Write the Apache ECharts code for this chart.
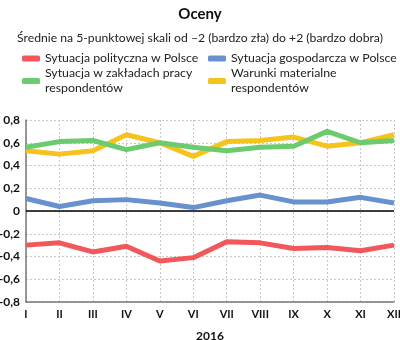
<!DOCTYPE html>
<html>
<head>
<meta charset="utf-8">
<script src="https://cdn.jsdelivr.net/npm/echarts@6/dist/echarts.min.js"></script>
<style>
  html, body { margin: 0; padding: 0; background: #fff; }
  #chart { width: 400px; height: 340px; }
</style>
</head>
<body>
<div id="chart"></div>
<script>
// Miesiące 2016 (oś X)
var months = ['I', 'II', 'III', 'IV', 'V', 'VI', 'VII', 'VIII', 'IX', 'X', 'XI', 'XII'];

// Średnie oceny na skali od -2 do +2
var polityczna = [-0.30, -0.28, -0.36, -0.31, -0.44, -0.41, -0.27, -0.28, -0.33, -0.32, -0.35, -0.30];
var gospodarcza = [0.11, 0.04, 0.09, 0.10, 0.07, 0.03, 0.09, 0.14, 0.08, 0.08, 0.12, 0.07];
var zaklady = [0.56, 0.61, 0.62, 0.54, 0.60, 0.56, 0.53, 0.56, 0.57, 0.70, 0.60, 0.62];
var warunki = [0.53, 0.50, 0.53, 0.67, 0.60, 0.48, 0.61, 0.62, 0.65, 0.57, 0.60, 0.67];

var names = [
  'Sytuacja polityczna w Polsce',
  'Sytuacja gospodarcza w Polsce',
  'Sytuacja w zakładach pracy respondentów',
  'Warunki materialne respondentów'
];
var colors = ['#f2585b', '#6891cd', '#6ccb6e', '#f6c21c'];

var FONT = 'Lato';

// Dwuwierszowe pozycje legendy: ikonka wyrównana do pierwszego wiersza
function legendBlock(name, left, top) {
  var twoLines = (name === names[2] || name === names[3]);
  return {
    data: [name],
    left: left,
    top: top,
    orient: 'vertical',
    icon: 'roundRect',
    itemWidth: 18,
    itemHeight: 6,
    itemGap: 4,
    padding: 0,
    selectedMode: false,
    formatter: function (n) {
      if (n === names[2]) return 'Sytuacja w zakładach pracy\nrespondentów';
      if (n === names[3]) return 'Warunki materialne\nrespondentów';
      return n;
    },
    textStyle: {
      fontFamily: FONT,
      fontSize: 12.3,
      color: '#222',
      lineHeight: 15,
      padding: twoLines ? [15, 0, 0, 0] : 0
    }
  };
}

function lineSeries(name, data, color, extra) {
  var s = {
    name: name,
    type: 'line',
    data: data,
    symbol: 'none',
    lineStyle: { width: 5, color: color },
    itemStyle: { color: color },
    z: 3
  };
  if (extra) Object.assign(s, extra);
  return s;
}

var chart = echarts.init(document.getElementById('chart'), null, { renderer: 'canvas' });

chart.setOption({
  backgroundColor: '#fff',
  animation: false,
  textStyle: { fontFamily: FONT },
  title: [
    {
      text: 'Oceny',
      left: 'center',
      top: 2,
      textStyle: { fontFamily: FONT, fontSize: 15, fontWeight: 'bold', color: '#111' }
    },
    {
      text: 'Średnie na 5-punktowej skali od –2 (bardzo zła) do +2 (bardzo dobra)',
      left: 'center',
      top: 27,
      textStyle: { fontFamily: FONT, fontSize: 12.2, fontWeight: 'normal', color: '#222' }
    }
  ],
  legend: [
    legendBlock(names[0], 22, 51),
    legendBlock(names[2], 22, 58.5),
    legendBlock(names[1], 208, 51),
    legendBlock(names[3], 208, 58.5)
  ],
  grid: { left: 26, right: 6, top: 120, bottom: 38, containLabel: false, outerBoundsMode: 'none' },
  xAxis: {
    type: 'category',
    data: months,
    boundaryGap: false,
    name: '2016',
    nameLocation: 'middle',
    nameGap: 28,
    nameTextStyle: { fontFamily: FONT, fontSize: 12, fontWeight: 'bold', color: '#111' },
    axisLine: { onZero: false, lineStyle: { color: '#777', width: 1.5 } },
    axisTick: { show: false },
    axisLabel: { fontFamily: FONT, fontSize: 11, fontWeight: 'bold', color: '#111', margin: 7 },
    splitLine: { show: true, lineStyle: { color: '#c8c8c8', type: [2, 2], width: 1 } }
  },
  yAxis: {
    type: 'value',
    min: -0.8,
    max: 0.8,
    interval: 0.2,
    axisLine: { show: true, lineStyle: { color: '#777', width: 1.5 } },
    axisTick: { show: false },
    axisLabel: {
      fontFamily: FONT, fontSize: 12, fontWeight: 'bold', color: '#111', margin: 6,
      formatter: function (v) {
        var r = Math.round(v * 10) / 10;
        if (r === 0) return '0';
        return r.toFixed(1).replace('.', ',');
      }
    },
    splitLine: { show: true, lineStyle: { color: '#c8c8c8', type: [2, 2], width: 1 } }
  },
  series: [
    lineSeries(names[0], polityczna, colors[0], {
      markLine: {
        silent: true,
        symbol: 'none',
        label: { show: false },
        lineStyle: { color: '#000', width: 1.5, type: 'solid' },
        data: [{ yAxis: 0 }],
        z: 2
      }
    }),
    lineSeries(names[1], gospodarcza, colors[1]),
    lineSeries(names[3], warunki, colors[3]),
    lineSeries(names[2], zaklady, colors[2])
  ]
});
</script>
</body>
</html>
